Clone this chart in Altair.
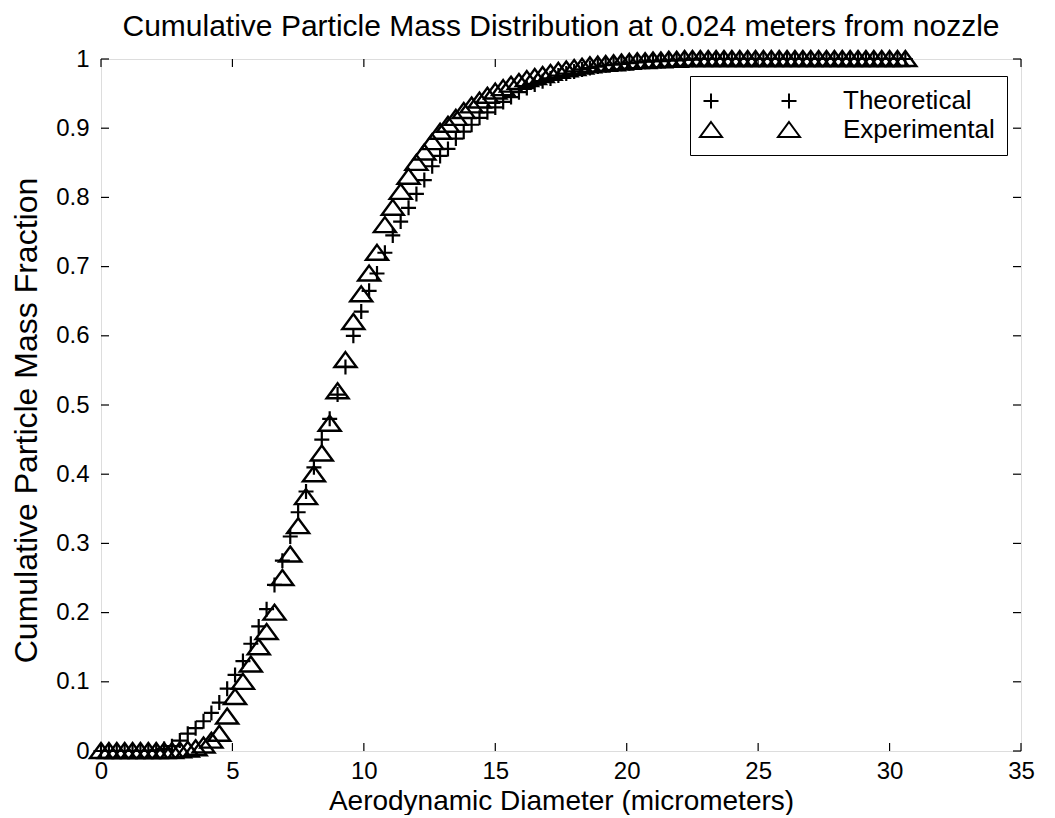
import altair as alt
import pandas as pd

diameter_um = [
    0.0, 0.3, 0.6, 0.9, 1.2, 1.5, 1.8, 2.1, 2.4, 2.7,
    3.0, 3.3, 3.6, 3.9, 4.2, 4.5, 4.8, 5.1, 5.4, 5.7,
    6.0, 6.3, 6.6, 6.9, 7.2, 7.5, 7.8, 8.1, 8.4, 8.7,
    9.0, 9.3, 9.6, 9.9, 10.2, 10.5, 10.8, 11.1, 11.4, 11.7,
    12.0, 12.3, 12.6, 12.9, 13.2, 13.5, 13.8, 14.1, 14.4, 14.7,
    15.0, 15.3, 15.6, 15.9, 16.2, 16.5, 16.8, 17.1, 17.4, 17.7,
    18.0, 18.3, 18.6, 18.9, 19.2, 19.5, 19.8, 20.1, 20.4, 20.7,
    21.0, 21.3, 21.6, 21.9, 22.2, 22.5, 22.8, 23.1, 23.4, 23.7,
    24.0, 24.3, 24.6, 24.9, 25.2, 25.5, 25.8, 26.1, 26.4, 26.7,
    27.0, 27.3, 27.6, 27.9, 28.2, 28.5, 28.8, 29.1, 29.4, 29.7,
    30.0, 30.3, 30.6,
]

theoretical = [
    0, 0, 0, 0, 0, 0, 0, 0.001, 0.003, 0.007,
    0.015, 0.025, 0.033, 0.043, 0.055, 0.07, 0.09, 0.11, 0.13, 0.155,
    0.18, 0.205, 0.24, 0.275, 0.31, 0.345, 0.375, 0.41, 0.45, 0.48,
    0.515, 0.555, 0.6, 0.635, 0.665, 0.69, 0.72, 0.745, 0.765, 0.785,
    0.805, 0.825, 0.845, 0.86, 0.87, 0.885, 0.895, 0.905, 0.915, 0.923,
    0.93, 0.938, 0.945, 0.952, 0.958, 0.963, 0.968, 0.972, 0.976, 0.979,
    0.982, 0.985, 0.987, 0.989, 0.991, 0.992, 0.993, 0.994, 0.995, 0.996,
    0.997, 0.997, 0.998, 0.998, 0.999, 0.999, 1, 1, 1, 1,
    1, 1, 1, 1, 1, 1, 1, 1, 1, 1,
    1, 1, 1, 1, 1, 1, 1, 1, 1, 1,
    1, 1, 1,
]

experimental = [
    0, 0, 0, 0, 0, 0, 0, 0, 0, 0,
    0.001, 0.002, 0.004, 0.008, 0.015, 0.025, 0.05, 0.078, 0.10, 0.125,
    0.15, 0.172, 0.20, 0.25, 0.284, 0.325, 0.367, 0.40, 0.43, 0.473,
    0.52, 0.565, 0.62, 0.66, 0.69, 0.72, 0.76, 0.785, 0.808, 0.83,
    0.85, 0.865, 0.88, 0.895, 0.905, 0.915, 0.925, 0.933, 0.94, 0.947,
    0.953, 0.958, 0.963, 0.967, 0.971, 0.974, 0.977, 0.98, 0.983, 0.985,
    0.987, 0.989, 0.991, 0.992, 0.993, 0.994, 0.995, 0.996, 0.997, 0.997,
    0.998, 0.998, 0.999, 0.999, 1, 1, 1, 1, 1, 1,
    1, 1, 1, 1, 1, 1, 1, 1, 1, 1,
    1, 1, 1, 1, 1, 1, 1, 1, 1, 1,
    1, 1, 1,
]

series_names = ["Theoretical", "Experimental"]
x_ticks = [0, 5, 10, 15, 20, 25, 30, 35]
y_ticks = [0, 0.1, 0.2, 0.3, 0.4, 0.5, 0.6, 0.7, 0.8, 0.9, 1]

W, H = 920, 692
FONT = "Liberation Sans"
TICK = 8

df = pd.DataFrame({"d": diameter_um, "theo": theoretical, "exp": experimental})

PLUS = "M-1,0L1,0M0,-1L0,1"
TRI = "M0,-0.72L1,0.64L-1,0.64Z"
LEG_PLUS = "M-9.3,0L-6.3,0M-7.8,-1.5L-7.8,1.5M6.3,0L9.3,0M7.8,-1.5L7.8,1.5"
LEG_TRI = "M-7.8,-1.6L-5.6,1.4L-10,1.4Z M7.8,-1.6L10,1.4L5.6,1.4Z"

xs = alt.Scale(domain=[0, 35], nice=False, zero=False)
ys = alt.Scale(domain=[0, 1], nice=False, zero=False)

x_axis = alt.Axis(
    values=x_ticks, ticks=False, tickSize=0, domain=False, grid=False,
    labelFont=FONT, labelFontSize=24, labelColor="black", labelPadding=8,
    labelFlush=False, format="d", title="Aerodynamic Diameter (micrometers)",
    titleFont=FONT, titleFontSize=28, titleFontWeight="normal",
    titleColor="black", titlePadding=4,
)
y_axis = alt.Axis(
    values=y_ticks, ticks=False, tickSize=0, domain=False, grid=False,
    labelFont=FONT, labelFontSize=24, labelColor="black", labelPadding=12,
    labelFlush=False, format="~g", title="Cumulative Particle Mass Fraction",
    titleFont=FONT, titleFontSize=32, titleFontWeight="normal",
    titleColor="black", titlePadding=12, titleY=361,
)


def X(field):
    return alt.X(field, scale=xs, axis=x_axis)


def Y(field):
    return alt.Y(field, scale=ys, axis=y_axis)


theo = alt.Chart(df).mark_point(
    shape=PLUS, filled=False, color="black", strokeWidth=2.2, size=225, opacity=1
).encode(x=X("d:Q"), y=Y("theo:Q"))

exp = alt.Chart(df).mark_point(
    shape=TRI, filled=False, color="black", strokeWidth=2.4, size=484, opacity=1
).encode(x=X("d:Q"), y=Y("exp:Q"))

xt = pd.DataFrame({"t": x_ticks})
yt = pd.DataFrame({"t": y_ticks})
rule = dict(color="black", strokeWidth=1.2)
bottom_ticks = alt.Chart(xt).mark_rule(**rule).encode(
    x=X("t:Q"), y=alt.value(H), y2=alt.value(H - TICK))
top_ticks = alt.Chart(xt).mark_rule(**rule).encode(
    x=X("t:Q"), y=alt.value(0), y2=alt.value(TICK))
left_ticks = alt.Chart(yt).mark_rule(**rule).encode(
    y=Y("t:Q"), x=alt.value(0), x2=alt.value(TICK))
right_ticks = alt.Chart(yt).mark_rule(**rule).encode(
    y=Y("t:Q"), x=alt.value(W), x2=alt.value(W - TICK))

legend_layer = alt.Chart(pd.DataFrame({"series": series_names})).transform_filter(
    "false"
).mark_point(filled=False, color="black", strokeWidth=2, size=100, opacity=1).encode(
    shape=alt.Shape(
        "series:N",
        scale=alt.Scale(domain=series_names, range=[LEG_PLUS, LEG_TRI]),
        legend=alt.Legend(
            title=None, orient="none", legendX=589, legendY=17,
            direction="vertical", fillColor="white", strokeColor="black",
            padding=12, labelFont=FONT, labelFontSize=26, labelColor="black",
            symbolSize=100, symbolStrokeWidth=2, symbolStrokeColor="black",
            symbolFillColor="transparent", symbolOffset=35, labelOffset=80,
            rowPadding=3, labelLimit=400,
        ),
    )
)

chart = alt.layer(
    theo, exp, bottom_ticks, top_ticks, left_ticks, right_ticks, legend_layer
).properties(
    width=W, height=H,
    title=alt.TitleParams(
        "Cumulative Particle Mass Distribution at 0.024 meters from nozzle",
        font=FONT, fontSize=30, fontWeight="normal", color="black",
        anchor="middle", frame="group", offset=4,
    ),
    autosize=alt.AutoSizeParams(type="none"),
    padding={"left": 93, "top": 51, "right": 22, "bottom": 64},
).configure_view(stroke="black", strokeWidth=1.5).configure(background="white")

chart.save("out.html", embed_options={"renderer": "svg", "actions": False})
